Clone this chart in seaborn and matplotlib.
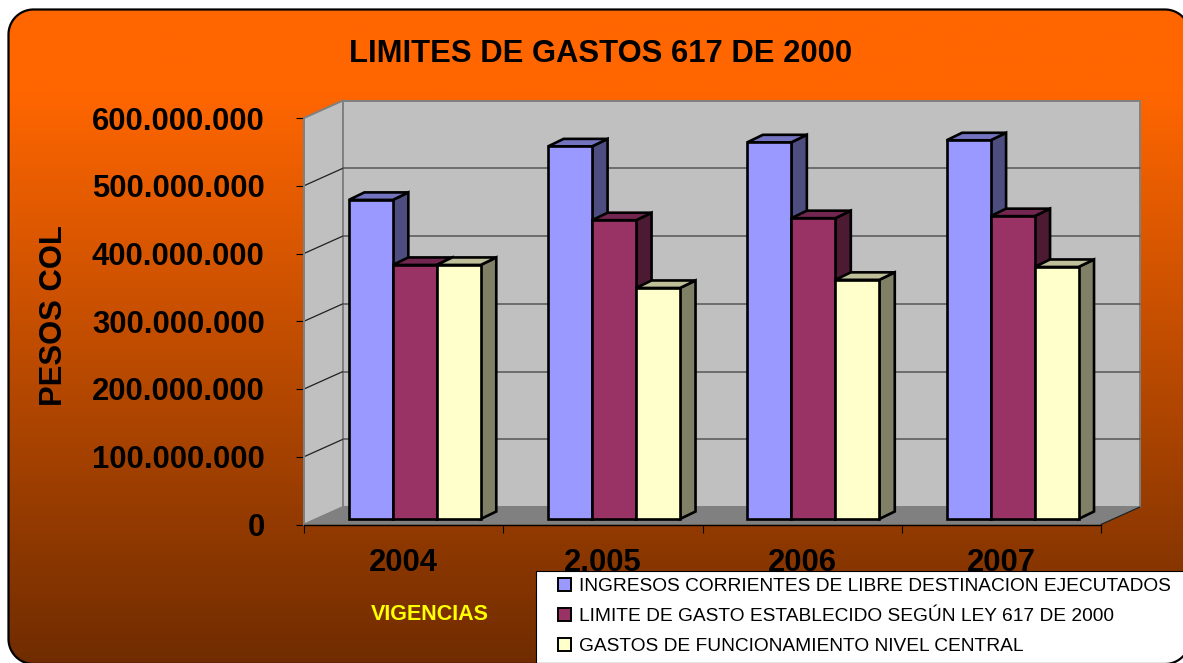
import numpy as np
import pandas as pd
import matplotlib
matplotlib.use("Agg")
import matplotlib.pyplot as plt
import seaborn as sns
from matplotlib.colors import LinearSegmentedColormap
from matplotlib.patches import Polygon, Patch, Rectangle
from matplotlib.transforms import IdentityTransform

# Data
years = ["2004", "2.005", "2006", "2007"]
series_names = [
    "INGRESOS CORRIENTES DE LIBRE DESTINACION EJECUTADOS",
    "LIMITE DE GASTO ESTABLECIDO SEGÚN LEY 617 DE 2000",
    "GASTOS DE FUNCIONAMIENTO NIVEL CENTRAL",
]
ingresos = [471e6, 550e6, 556e6, 559e6]
limite = [375e6, 441e6, 444e6, 447e6]
gastos = [375e6, 341e6, 353e6, 372e6]
y_ticks = [0, 100e6, 200e6, 300e6, 400e6, 500e6, 600e6]
y_tick_labels = ["0", "100.000.000", "200.000.000", "300.000.000",
                 "400.000.000", "500.000.000", "600.000.000"]

front_colors = ["#9999FF", "#993366", "#FFFFCC"]
side_colors = ["#4D4D80", "#4D1A33", "#808066"]
top_colors = ["#7373BF", "#732650", "#BFBF99"]

sns.set_theme(style="white")
plt.rcParams["font.family"] = ["Liberation Sans", "DejaVu Sans"]

W, H = 1183, 663
fig = plt.figure(figsize=(W / 100, H / 100), dpi=100)
fig.patch.set_facecolor("white")


def rounded_rect(x0, y0, x1, y1, r):
    # outline with real circular corners, y grows downwards like the image
    t = np.linspace(0, np.pi / 2, 30)
    pts = [
        np.c_[x1 - r + r * np.sin(t), y0 + r - r * np.cos(t)],
        np.c_[x1 - r + r * np.cos(t), y1 - r + r * np.sin(t)],
        np.c_[x0 + r - r * np.sin(t), y1 - r + r * np.cos(t)],
        np.c_[x0 + r - r * np.cos(t), y0 + r - r * np.sin(t)],
    ]
    return np.vstack(pts)


outline = rounded_rect(8.5, 9.5, 1190, 664, 25)

# background with the orange to brown gradient
bg = fig.add_axes([0, 0, 1, 1], zorder=-1)
bg.axis("off")
cmap = LinearSegmentedColormap.from_list("bg", [(0, "#FF6600"), (0.14, "#FF6600"), (1, "#702C00")])
grad = np.linspace(0, 1, 256).reshape(-1, 1)
im = bg.imshow(grad, cmap=cmap, extent=[0, W, H, 0], aspect="auto")
bg.set_xlim(0, W)
bg.set_ylim(H, 0)
clip = Polygon(outline, closed=True, transform=bg.transData, fc="none", ec="none")
bg.add_patch(clip)
im.set_clip_path(clip)

# main axes = front plane of the 3D box
left, right, top, bottom = 304, 1101, 118, 524.5
ax = fig.add_axes([left / W, (H - bottom) / H, (right - left) / W, (bottom - top) / H])
ax.patch.set_alpha(0)

df = pd.DataFrame({
    "year": years * 3,
    "serie": sum([[n] * 4 for n in series_names], []),
    "value": ingresos + limite + gastos,
})
sns.barplot(data=df, x="year", y="value", hue="serie", order=years, hue_order=series_names,
            palette=dict(zip(series_names, front_colors)), width=0.662, saturation=1,
            edgecolor="black", linewidth=1.9, legend=False, ax=ax)

ax.set_xlim(-0.5, 3.5)
ax.set_ylim(0, 600e6)
px_x = 4 / (right - left)
px_y = 600e6 / (bottom - top)

# depth of the box and of the bars, in data units
box_dx, box_dy = 39 * px_x, 17.5 * px_y
shift_dx, shift_dy = 11.2 * px_x, 5.5 * px_y
bar_dx, bar_dy = 15.5 * px_x, 7.5 * px_y

x0, x1 = -0.5, 3.5
y0, y1 = 0, 600e6


def poly(points, fc, ec, lw, z):
    ax.add_patch(Polygon(points, closed=True, fc=fc, ec=ec, lw=lw, zorder=z,
                         clip_on=False, joinstyle="miter"))


# walls and floor
poly([(x0, y0), (x0 + box_dx, y0 + box_dy), (x0 + box_dx, y1 + box_dy), (x0, y1)],
     "#C0C0C0", "#808080", 1.4, 1)
poly([(x0 + box_dx, y0 + box_dy), (x1 + box_dx, y0 + box_dy),
      (x1 + box_dx, y1 + box_dy), (x0 + box_dx, y1 + box_dy)],
     "#C0C0C0", "#808080", 1.4, 1)
poly([(x0, y0), (x1, y0), (x1 + box_dx, y0 + box_dy), (x0 + box_dx, y0 + box_dy)],
     "#808080", "#808080", 0.5, 1.1)

# gridlines on side wall and back wall
for t in y_ticks[1:-1]:
    ax.plot([x0, x0 + box_dx], [t, t + box_dy], color="#202020", lw=0.9, zorder=1.5, clip_on=False)
    ax.plot([x0 + box_dx, x1 + box_dx], [t + box_dy, t + box_dy], color="#555555", lw=1.1,
            zorder=1.5, clip_on=False)
ax.plot([x1, x1 + box_dx], [y0, y0 + box_dy], color="#202020", lw=0.9, zorder=1.5, clip_on=False)

# turn the flat seaborn bars into 3D ones
for h, container in enumerate(ax.containers):
    for i, bar in enumerate(container):
        bar.set_x(bar.get_x() + shift_dx)
        bar.set_y(bar.get_y() + shift_dy)
        a, b = bar.get_x(), bar.get_x() + bar.get_width()
        lo, hi = bar.get_y(), bar.get_y() + bar.get_height()
        z = 3 + (i * 3 + h) * 0.1
        poly([(b, lo), (b + bar_dx, lo + bar_dy), (b + bar_dx, hi + bar_dy), (b, hi)],
             side_colors[h], "black", 1.9, z)
        poly([(a, hi), (b, hi), (b + bar_dx, hi + bar_dy), (a + bar_dx, hi + bar_dy)],
             top_colors[h], "black", 1.9, z)
        bar.set_zorder(z + 0.05)
        bar.set_clip_on(False)

# axes
ax.set_xlabel("")
ax.set_ylabel("")
ax.set_yticks(y_ticks)
ax.set_yticklabels(y_tick_labels, fontsize=22.3, fontweight="bold", color="black")
ax.set_xticks(range(4))
ax.set_xticklabels(years, fontsize=22.3, fontweight="bold", color="black")
ax.set_xticks(np.arange(-0.5, 4), minor=True)
ax.tick_params(axis="y", length=5.8, width=0.8, color="black", pad=22.5, left=True)
ax.tick_params(axis="x", which="major", length=0, pad=17)
ax.tick_params(axis="x", which="minor", length=5.8, width=0.8, color="black", bottom=True)
sns.despine(ax=ax, top=True, right=True)
ax.spines["left"].set_color("#808080")
ax.spines["left"].set_linewidth(1.4)
ax.spines["bottom"].set_color("black")
ax.spines["bottom"].set_linewidth(1.0)

# texts, placed in figure fractions
fig.text(601 / W, 1 - 54.5 / H, "LIMITES DE GASTOS 617 DE 2000", fontsize=22.3, fontweight="bold",
         color="black", ha="center", va="center")
fig.text(54 / W, 1 - 316 / H, "PESOS COL", fontsize=22.3, fontweight="bold", color="black",
         rotation=90, ha="center", va="center")
fig.text(429.5 / W, 1 - 614 / H, "VIGENCIAS", fontsize=15.5, fontweight="bold", color="#FFFF00",
         ha="center", va="center")

# white legend panel, runs off the figure on the right and at the bottom
ax.add_patch(Rectangle((536 / W, -0.02), (W + 20 - 536) / W, 1 - 571 / H + 0.02,
                       transform=fig.transFigure, fc="white", ec="black", lw=0.8,
                       zorder=9, clip_on=False))
handles = [Patch(fc=c, ec="black", lw=1.4) for c in front_colors]
leg = ax.legend(handles, series_names, loc="upper left", bbox_to_anchor=(558 / W, 1 - 578 / H),
                bbox_transform=fig.transFigure, borderaxespad=0, frameon=False, fontsize=13.75,
                handlelength=0.68, handleheight=0.68, handletextpad=0.42, borderpad=0,
                labelspacing=0.66, labelcolor="black")
leg.set_zorder(10)

# rounded border goes over everything
fig.add_artist(Polygon(np.c_[outline[:, 0], H - outline[:, 1]], closed=True,
                       transform=IdentityTransform(), fc="none", ec="black", lw=1.6, zorder=20))

fig.savefig("out.png", dpi=100)
